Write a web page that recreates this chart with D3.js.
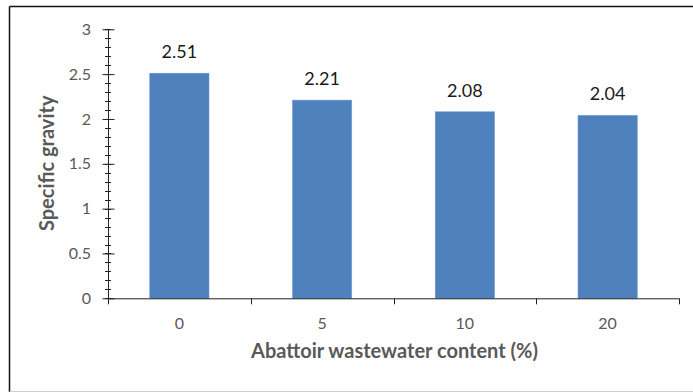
<!DOCTYPE html>
<html>
<head>
<meta charset="utf-8">
<script src="https://cdn.jsdelivr.net/npm/d3@7"></script>
<style>
  html, body { margin: 0; padding: 0; background: #fff; }
  svg { display: block; }
  text { font-family: Lato, "Open Sans", sans-serif; }
</style>
</head>
<body>
<svg id="chart" width="693" height="392"></svg>
<script>
// Specific gravity at each abattoir wastewater content
const categories = ["0", "5", "10", "20"];
const values = [2.51, 2.21, 2.08, 2.04];
const valueLabels = ["2.51", "2.21", "2.08", "2.04"];
const yTicks = [0, 0.5, 1, 1.5, 2, 2.5, 3];
const yTickLabels = ["0", "0.5", "1", "1.5", "2", "2.5", "3"];
const yMinorTicks = d3.range(0, 31).map(i => i / 10);

const svg = d3.select("#chart");
const W = 693, H = 392;
const plot = { left: 108, right: 679, top: 29.3, bottom: 298.3 };

// chart frame
svg.append("line").attr("x1", 9.5).attr("x2", W).attr("y1", 6.5).attr("y2", 6.5)
  .attr("stroke", "#111").attr("stroke-width", 1.5);
svg.append("line").attr("x1", 9.5).attr("x2", 9.5).attr("y1", 6.5).attr("y2", H)
  .attr("stroke", "#111").attr("stroke-width", 1.5);
svg.append("line").attr("x1", 9.5).attr("x2", W).attr("y1", 391.5).attr("y2", 391.5)
  .attr("stroke", "#d0d0d0").attr("stroke-width", 1);

const x = d3.scaleBand().domain(categories).range([plot.left, plot.right]).paddingInner(0.585).paddingOuter(0.2925);
const xOuter = d3.scaleBand().domain(categories).range([plot.left, plot.right]);
const y = d3.scaleLinear().domain([0, 3]).range([plot.bottom, plot.top]);

// bars
svg.append("g").selectAll("rect").data(values).join("rect")
  .attr("x", (d, i) => x(categories[i]))
  .attr("width", x.bandwidth())
  .attr("y", d => y(d))
  .attr("height", d => y(0) - y(d))
  .attr("fill", "#4f81bd")
  .attr("stroke", "#6f9ad0")
  .attr("stroke-width", 0.6);

// value labels
svg.append("g").selectAll("text").data(values).join("text")
  .attr("x", (d, i) => x(categories[i]) + x.bandwidth() / 2)
  .attr("y", d => y(d) - 15)
  .attr("text-anchor", "middle")
  .attr("font-size", 18)
  .attr("fill", "#1a1a1a")
  .text((d, i) => valueLabels[i]);

// y axis: minor ticks
const yAxisG = svg.append("g");
yAxisG.selectAll("line.minor").data(yMinorTicks).join("line")
  .attr("class", "minor")
  .attr("x1", plot.left - 3).attr("x2", plot.left + 3)
  .attr("y1", d => Math.round(y(d)) + 0.5).attr("y2", d => Math.round(y(d)) + 0.5)
  .attr("stroke", "#222").attr("stroke-width", 1);
// y axis: major ticks with labels
const yAxis = d3.axisLeft(y).tickValues(yTicks).tickSize(0)
  .tickFormat((d, i) => yTickLabels[i]).tickPadding(17);
const gy = svg.append("g").attr("transform", `translate(${plot.left},0)`).call(yAxis);
gy.select(".domain").attr("stroke", "#222").attr("d", `M0.5,${plot.top}V${plot.bottom}`);
gy.selectAll(".tick line").remove();
gy.selectAll(".tick").append("line")
  .attr("x1", -5.5).attr("x2", 6.5).attr("stroke", "#222");
gy.selectAll(".tick text").attr("font-size", 16).attr("fill", "#595959")
  .attr("font-family", "Lato, sans-serif");

// x axis
const xAxis = d3.axisBottom(xOuter).tickSize(0);
const gx = svg.append("g").attr("transform", `translate(0,${plot.bottom})`).call(xAxis);
gx.select(".domain").attr("stroke", "#222").attr("d", `M${plot.left},0.5H${plot.right}`);
gx.selectAll(".tick text").attr("font-size", 16).attr("fill", "#595959")
  .attr("font-family", "Lato, sans-serif")
  .attr("y", 31).attr("dy", null);
// category boundary ticks
const bounds = categories.map(c => xOuter(c)).concat([plot.right]);
gx.selectAll("line.bound").data(bounds).join("line")
  .attr("class", "bound")
  .attr("x1", d => Math.round(d) + 0.5).attr("x2", d => Math.round(d) + 0.5)
  .attr("y1", 0).attr("y2", 6).attr("stroke", "#222");

// axis titles
svg.append("text")
  .attr("x", (plot.left + plot.right) / 2 + 1).attr("y", 358)
  .attr("text-anchor", "middle").attr("font-size", 20).attr("font-weight", "bold")
  .attr("fill", "#595959")
  .text("Abattoir wastewater content (%)");
svg.append("text")
  .attr("transform", `translate(54,${(plot.top + plot.bottom) / 2 - 0.5}) rotate(-90)`)
  .attr("text-anchor", "middle").attr("font-size", 20).attr("font-weight", "bold")
  .attr("fill", "#595959")
  .text("Specific gravity");
</script>
</body>
</html>
